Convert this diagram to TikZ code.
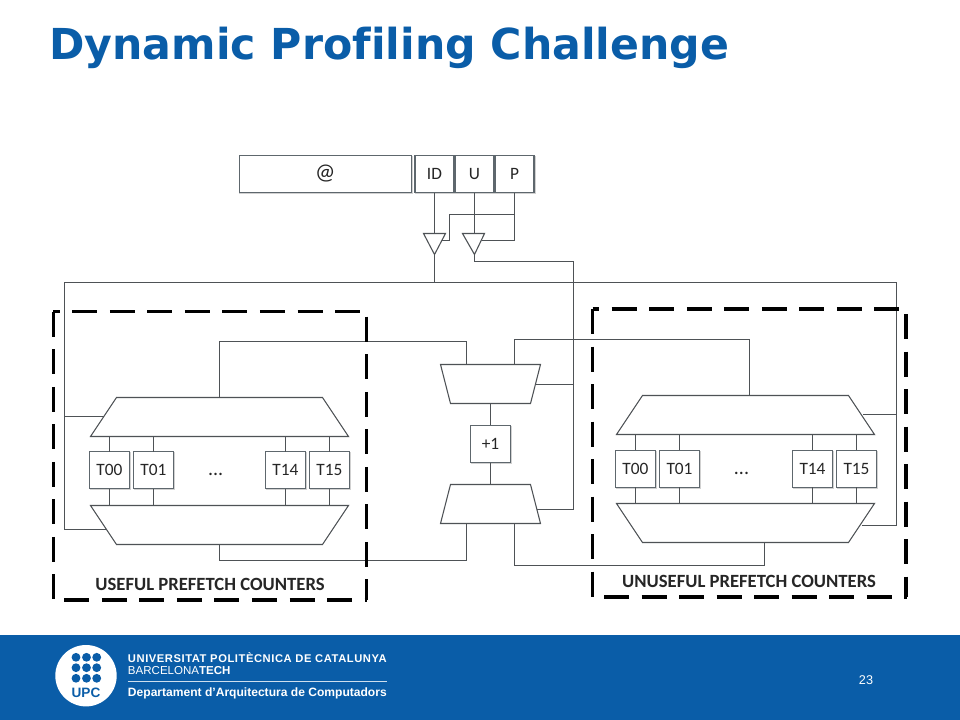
\documentclass[tikz,border=0pt]{standalone}
\usepackage{fontspec}
\usetikzlibrary{calc}
\setmainfont{Carlito}
\newfontfamily\titlefont[Ligatures={NoCommon,NoRequired}]{DejaVu Sans}
\newfontfamily\arialfont{Liberation Sans}
\newfontfamily\arialspaced[LetterSpace=5]{Liberation Sans}
\definecolor{upcblue}{HTML}{0A5DA8}
\definecolor{wire}{HTML}{4E5256}
\definecolor{boxline}{HTML}{5E676D}
\tikzset{
  wirepath/.style={draw=wire,line width=0.8pt},
  muxbody/.style={draw=wire,line width=0.8pt,fill=white,line join=miter},
  regbox/.style={draw=boxline,line width=0.85pt,fill=white,inner sep=0pt,outer sep=0pt,
     font=\fontsize{13pt}{13pt}\selectfont,text=black!85,
     preaction={draw=black!18,line width=1pt,transform canvas={shift={(0.7pt,-0.7pt)}}}},
  dashline/.style={draw=black,line width=2.3pt,dash pattern=on 18.75pt off 9.4pt},
  grouplabel/.style={font=\bfseries\fontsize{14pt}{14pt}\selectfont,text=black!85,inner sep=0pt},
  footertext/.style={text=white,inner sep=0pt,anchor=west},
  dotstext/.style={inner sep=0pt,font=\fontsize{15pt}{15pt}\selectfont,text=black!85}
}
\begin{document}
\begin{tikzpicture}[x=0.75pt,y=-0.75pt]
\useasboundingbox (0,0) rectangle (960,720);
\fill[white] (0,0) rectangle (960,720);
\fill[upcblue] (0,635) rectangle (960,720);
\node[anchor=west,inner sep=0pt,text=upcblue,font=\titlefont\bfseries\fontsize{32pt}{32pt}\selectfont] (title) at (49,47.5) {Dynamic Profiling Challenge};

% registers
\node[regbox,minimum width=129pt,minimum height=28pt] (addr) at (325.2,174) {\fontsize{17pt}{17pt}\selectfont @};
\node[regbox,minimum width=29.3pt,minimum height=28pt] (id) at (434.5,174) {ID};
\node[regbox,minimum width=29.3pt,minimum height=28pt] (u) at (474.5,174) {U};
\node[regbox,minimum width=29.3pt,minimum height=28pt] (p) at (514.5,174) {P};

% buffers
\draw[muxbody] (423.5,233.5) -- (445.5,233.5) -- (434.5,254.5) -- cycle;
\draw[muxbody] (462.5,233.5) -- (484.5,233.5) -- (474.5,254.5) -- cycle;

% ports and junctions
\coordinate (b1top) at (434.5,233.5);
\coordinate (b1apex) at (434.5,254.5);
\coordinate (b1in) at (442,240.5);
\coordinate (b2top) at (474.5,233.5);
\coordinate (b2apex) at (474.5,254.5);
\coordinate (b2in) at (481.5,240.5);
\coordinate (pj) at (514.5,214.5);
\coordinate (pk) at (449.5,214.5);
\coordinate (pl) at (449.5,240.5);
\coordinate (bus1) at (64.5,282.5);
\coordinate (bus2) at (896.5,282.5);
\coordinate (busj) at (434.5,282.5);
\coordinate (u2) at (573.5,261.5);
\coordinate (cj) at (573.5,384.5);
\coordinate (cl) at (573.5,509.5);
\coordinate (ltin) at (103.5,416.5);
\coordinate (lbin) at (105.5,529.5);
\coordinate (ltl) at (64.5,416.5);
\coordinate (lbl) at (64.5,529.5);
\coordinate (rtin) at (862.5,414.5);
\coordinate (rbin) at (861.5,525.5);
\coordinate (rtr) at (896.5,414.5);
\coordinate (rbr) at (896.5,525.5);
\coordinate (lttop) at (219.5,397.5);
\coordinate (lbbot) at (219.5,544.5);
\coordinate (rttop) at (749.5,395.5);
\coordinate (rbbot) at (764.5,542.5);
\coordinate (cttopl) at (466.5,364.5);
\coordinate (cttopr) at (514.5,364.5);
\coordinate (cbbotl) at (466.5,523.5);
\coordinate (cbbotr) at (514.5,523.5);
\coordinate (ctsel) at (535,384.5);
\coordinate (cbsel) at (536.5,509.5);
\coordinate (ctbot) at (490.5,403.5);
\coordinate (cbtop) at (490.5,484.5);
\coordinate (topl) at (466.5,341.5);
\coordinate (botl) at (466.5,560.5);
\coordinate (topr) at (749.5,339.5);
\coordinate (botr) at (764.5,565.5);

% left group
\draw[muxbody] (116.5,397.5) -- (322.5,397.5) -- (348.5,436.5) -- (90.5,436.5) -- cycle;
\draw[muxbody] (90.5,505.5) -- (348.5,505.5) -- (322.5,544.5) -- (116.5,544.5) -- cycle;
\node[regbox,minimum width=29.5pt,minimum height=27.7pt] (l00) at (109.5,470.2) {T00};
\node[regbox,minimum width=29.5pt,minimum height=27.7pt] (l01) at (153.5,470.2) {T01};
\node[regbox,minimum width=29.5pt,minimum height=27.7pt] (l14) at (285.5,470.2) {T14};
\node[regbox,minimum width=29.5pt,minimum height=27.7pt] (l15) at (329.5,470.2) {T15};
\node[dotstext] (ldots) at (215.7,474) {...};
\node[grouplabel] (llabel) at (210,584.5) {USEFUL PREFETCH COUNTERS};

% right group
\draw[muxbody] (642.5,395.5) -- (848.5,395.5) -- (874.5,434.5) -- (616.5,434.5) -- cycle;
\draw[muxbody] (616.5,503.5) -- (874.5,503.5) -- (848.5,542.5) -- (642.5,542.5) -- cycle;
\node[regbox,minimum width=29.5pt,minimum height=27.7pt] (r00) at (635.5,468.7) {T00};
\node[regbox,minimum width=29.5pt,minimum height=27.7pt] (r01) at (679.5,468.7) {T01};
\node[regbox,minimum width=29.5pt,minimum height=27.7pt] (r14) at (812.5,468.7) {T14};
\node[regbox,minimum width=29.5pt,minimum height=27.7pt] (r15) at (856.5,468.7) {T15};
\node[dotstext] (rdots) at (741.5,473) {...};
\node[grouplabel] (rlabel) at (749,581.5) {UNUSEFUL PREFETCH COUNTERS};

% centre
\draw[muxbody] (440.5,364.5) -- (540.5,364.5) -- (530.5,403.5) -- (450.5,403.5) -- cycle;
\draw[muxbody] (450.5,484.5) -- (530.5,484.5) -- (540.5,523.5) -- (440.5,523.5) -- cycle;
\node[regbox,minimum width=29.5pt,minimum height=28pt] (inc) at (490.5,444) {+1};

% connectors
\draw[wirepath] (id.south) -- (b1top);
\draw[wirepath] (u.south) -- (b2top);
\draw[wirepath] (p.south) |- (b2in);
\draw[wirepath] (pj) -- (pk) -- (pl) -- (b1in);
\draw[wirepath] (b1apex) -- (busj);
\draw[wirepath] (b2apex) |- (u2) -- (cl) -- (cbsel);
\draw[wirepath] (cj) -- (ctsel);
\draw[wirepath] (lbl) -- (bus1) -- (bus2) -- (rbr) -- (rbin);
\draw[wirepath] (ltl) -- (ltin);
\draw[wirepath] (lbl) -- (lbin);
\draw[wirepath] (rtr) -- (rtin);
\foreach \n in {l00,l01,l14,l15}{
  \draw[wirepath] (\n.north) -- ++(0,-15.2);
  \draw[wirepath] (\n.south) -- ++(0,16.8);
}
\foreach \n in {r00,r01,r14,r15}{
  \draw[wirepath] (\n.north) -- ++(0,-15.5);
  \draw[wirepath] (\n.south) -- ++(0,16.2);
}
\draw[wirepath] (lttop) |- (topl) -- (cttopl);
\draw[wirepath] (lbbot) |- (botl) -- (cbbotl);
\draw[wirepath] (cttopr) |- (topr) -- (rttop);
\draw[wirepath] (cbbotr) |- (botr) -- (rbbot);
\draw[wirepath] (ctbot) -- (inc.north);
\draw[wirepath] (inc.south) -- (cbtop);

% dashed group frames
\draw[dashline] (53.3,311.7) -- (53.3,600);
\draw[dashline,dash phase=13.9pt] (53.3,311.7) -- (366,311.7);
\draw[dashline] (366.7,316.7) -- (366.7,600);
\draw[dashline] (64.3,600) -- (366.5,600);
\draw[dashline] (592.7,309) -- (592.7,597);
\draw[dashline,dash phase=13.9pt] (592.7,309) -- (899,309);
\draw[dashline] (906,314) -- (906,597);
\draw[dashline] (604,597) -- (907,597);

% footer
\fill[white] (86,675.7) circle[radius=30.7];
\foreach \x in {76,86.5,96.7}\foreach \y in {657.3,667.7,678.3}{\fill[upcblue] (\x,\y) circle[radius=4.4];}
\node[inner sep=0pt,text=upcblue,font=\arialfont\bfseries\fontsize{10.2pt}{11pt}\selectfont] (upc) at (86,692.5) {UPC};
\node[footertext,font=\arialspaced\bfseries\fontsize{8.4pt}{9pt}\selectfont] (uni) at (127.7,657.7) {UNIVERSITAT POLITÈCNICA DE CATALUNYA};
\node[footertext,font=\arialfont\fontsize{8.65pt}{9pt}\selectfont] (bcn) at (127.7,671) {BARCELONA\textbf{TECH}};
\draw[white!80!upcblue,line width=0.8pt] (127.7,681.5) -- (387.3,681.5);
\node[footertext,font=\arialfont\bfseries\fontsize{9.05pt}{10pt}\selectfont] (dept) at (127.7,693) {Departament d’Arquitectura de Computadors};
\node[inner sep=0pt,text=white,font=\arialfont\fontsize{9.5pt}{10pt}\selectfont] (num) at (866,680.5) {23};
\end{tikzpicture}
\end{document}
